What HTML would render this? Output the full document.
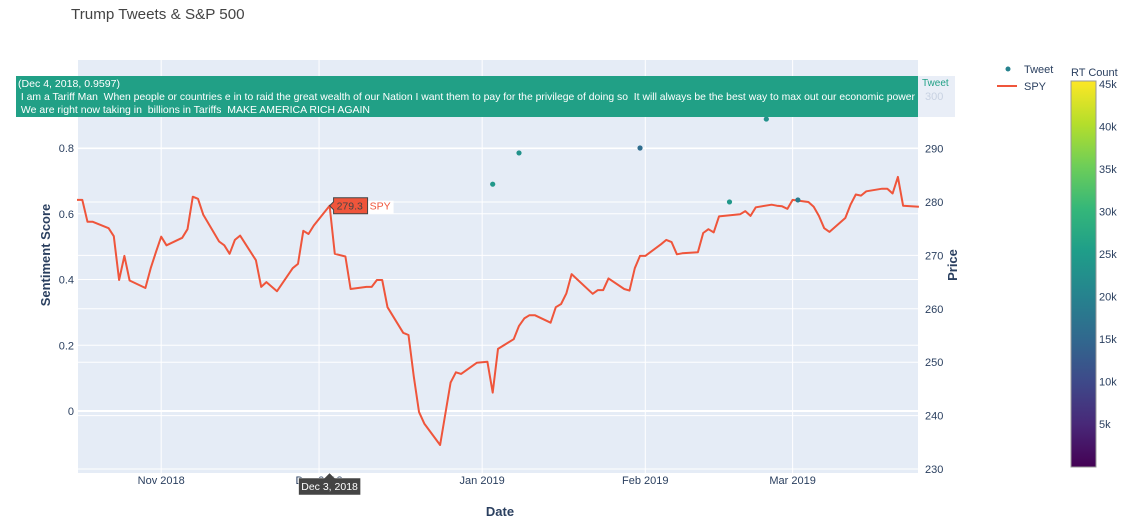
<!DOCTYPE html>
<html><head><meta charset="utf-8">
<style>
body{margin:0;background:#fff;width:1132px;height:532px;overflow:hidden;font-family:"Liberation Sans",Arial,sans-serif;}
svg{display:block}
text{font-family:"Liberation Sans",Arial,sans-serif;}
.pre{white-space:pre;}
</style></head>
<body>
<svg id="chart" width="1132" height="532" xmlns="http://www.w3.org/2000/svg">
<defs>
<linearGradient id="viridis" x1="0" y1="1" x2="0" y2="0">
<stop offset="0" stop-color="#440154"/><stop offset="0.11" stop-color="#482878"/>
<stop offset="0.22" stop-color="#3e4989"/><stop offset="0.33" stop-color="#31688e"/>
<stop offset="0.44" stop-color="#26828e"/><stop offset="0.56" stop-color="#1f9e89"/>
<stop offset="0.67" stop-color="#35b779"/><stop offset="0.78" stop-color="#6ece58"/>
<stop offset="0.89" stop-color="#b5de2b"/><stop offset="1" stop-color="#fde725"/>
</linearGradient>
</defs>
<text x="71" y="19" font-size="15.2" fill="#444">Trump Tweets &amp; S&amp;P 500</text>
<rect x="78" y="60" width="840" height="413" fill="#e5ecf6"/>
<g id="grid"></g>
<g id="series"></g>
<g id="axes"></g>
<text transform="translate(50,255) rotate(-90)" text-anchor="middle" font-size="13" font-weight="bold" fill="#2a3f5f">Sentiment Score</text>
<text transform="translate(957,265) rotate(-90)" text-anchor="middle" font-size="13" font-weight="bold" fill="#2a3f5f">Price</text>
<text x="500" y="516" text-anchor="middle" font-size="13" font-weight="bold" fill="#2a3f5f">Date</text>
<g>
<g><circle cx="1008" cy="69" r="2.5" fill="#26828e"/><text x="1024" y="73" font-size="11" fill="#2a3f5f">Tweet</text></g>
<g><line x1="997" y1="86" x2="1017" y2="86" stroke="#ef553b" stroke-width="2"/><text x="1024" y="90" font-size="11" fill="#2a3f5f">SPY</text></g>
</g>
<g>
<text x="1071" y="76" font-size="11" fill="#2a3f5f">RT Count</text>
<rect x="1071" y="81" width="25" height="386" fill="url(#viridis)" stroke="#999" stroke-width="1"/>
<g id="cbticks"></g>
</g>
<g id="hover"></g>
</svg>
<script>
const spyDates=["2018-10-16","2018-10-17","2018-10-18","2018-10-19","2018-10-22","2018-10-23","2018-10-24","2018-10-25","2018-10-26","2018-10-29","2018-10-30","2018-10-31","2018-11-01","2018-11-02","2018-11-05","2018-11-06","2018-11-07","2018-11-08","2018-11-09","2018-11-12","2018-11-13","2018-11-14","2018-11-15","2018-11-16","2018-11-19","2018-11-20","2018-11-21","2018-11-23","2018-11-26","2018-11-27","2018-11-28","2018-11-29","2018-11-30","2018-12-03","2018-12-04","2018-12-06","2018-12-07","2018-12-10","2018-12-11","2018-12-12","2018-12-13","2018-12-14","2018-12-17","2018-12-18","2018-12-19","2018-12-20","2018-12-21","2018-12-24","2018-12-26","2018-12-27","2018-12-28","2018-12-31","2019-01-02","2019-01-03","2019-01-04","2019-01-07","2019-01-08","2019-01-09","2019-01-10","2019-01-11","2019-01-14","2019-01-15","2019-01-16","2019-01-17","2019-01-18","2019-01-22","2019-01-23","2019-01-24","2019-01-25","2019-01-28","2019-01-29","2019-01-30","2019-01-31","2019-02-01","2019-02-04","2019-02-05","2019-02-06","2019-02-07","2019-02-08","2019-02-11","2019-02-12","2019-02-13","2019-02-14","2019-02-15","2019-02-19","2019-02-20","2019-02-21","2019-02-22","2019-02-25","2019-02-26","2019-02-27","2019-02-28","2019-03-01","2019-03-04","2019-03-05","2019-03-06","2019-03-07","2019-03-08","2019-03-11","2019-03-12","2019-03-13","2019-03-14","2019-03-15","2019-03-18","2019-03-19","2019-03-20","2019-03-21","2019-03-22","2019-03-25"];
const spyPrices=[280.4,280.4,276.3,276.3,275.1,273.6,265.4,269.9,265.3,263.9,267.6,270.6,273.5,271.9,273.3,274.9,281.0,280.6,277.6,272.6,271.9,270.3,272.9,273.7,269.1,264.1,265.0,263.3,267.6,268.4,274.6,274.0,275.6,279.3,270.3,269.8,263.7,264.1,264.1,265.4,265.4,260.3,255.5,255.1,247.3,240.7,238.5,234.5,246.2,248.1,247.8,249.9,250.1,244.3,252.5,254.3,256.8,258.2,258.8,258.8,257.4,260.3,260.9,262.9,266.5,262.8,263.5,263.5,265.7,263.7,263.4,267.6,269.9,269.9,272.1,272.9,272.5,270.2,270.4,270.6,274.2,274.9,274.3,277.3,277.7,278.3,277.4,279.0,279.5,279.3,279.2,278.7,280.4,280.0,279.1,277.4,275.1,274.4,277.0,279.5,281.4,281.2,282.0,282.5,282.5,281.6,284.7,279.3,279.1];
const tweetDates=["2018-12-04","2019-01-03","2019-01-08","2019-01-31","2019-02-17","2019-02-24","2019-03-02"];
const tweetScores=[0.9597,0.69,0.785,0.80,0.636,0.888,0.642];
const tweetRT=[26000,24000,23000,16000,24000,23000,19000];
const xTickDates=["2018-11-01","2018-12-01","2019-01-01","2019-02-01","2019-03-01"];
const xTickLabels=["Nov 2018","Dec 2018","Jan 2019","Feb 2019","Mar 2019"];
const yTicks=[0,0.2,0.4,0.6,0.8];
const y2Ticks=[230,240,250,260,270,280,290,300];
const cbTicks=[5000,10000,15000,20000,25000,30000,35000,40000,45000];

const NS="http://www.w3.org/2000/svg";
const DAY=86400000;
const x0=Date.UTC(2018,9,16), xDayPx=5.262, plotL=78, plotR=918, plotT=60, plotB=473;
function xs(d){const t=Date.parse(d+"T00:00:00Z");return plotL-1+(t-x0)/DAY*xDayPx;}
function ys(v){return 411-v*328.75;}
function y2s(p){return 202-(p-280)*5.34;}
function cbY(v){return 466.5-v*(42.5/5000);}
function mk(tag,attrs,parent){const e=document.createElementNS(NS,tag);for(const k in attrs)e.setAttribute(k,attrs[k]);parent.appendChild(e);return e;}
const grid=document.getElementById('grid'),axes=document.getElementById('axes'),series=document.getElementById('series'),hover=document.getElementById('hover'),cbt=document.getElementById('cbticks');

xTickDates.forEach((d,i)=>{const x=xs(d);
 const l=mk('line',{x1:x,x2:x,y1:plotT,y2:plotB,stroke:'#fff','stroke-width':1},grid);
 
 
 const t=mk('text',{x:x,y:484,'text-anchor':'middle','font-size':11,fill:'#2a3f5f'},axes);t.textContent=xTickLabels[i];
 
 });
y2Ticks.forEach(v=>{const y=y2s(v);
 if(y>plotT){const l=mk('line',{x1:plotL,x2:plotR,y1:y,y2:y,stroke:'#fff','stroke-width':1},grid);
 
 }
 const t=mk('text',{x:925,y:y+4,'font-size':11,fill:'#2a3f5f'},axes);t.textContent=v;
 
 });
yTicks.forEach(v=>{const y=ys(v);
 const l=mk('line',{x1:plotL,x2:plotR,y1:y,y2:y,stroke:'#fff','stroke-width':v===0?2:1},grid);
 
 
 const t=mk('text',{x:74,y:y+4,'text-anchor':'end','font-size':11,fill:'#2a3f5f'},axes);t.textContent=v;
 
 });

const pts=spyDates.map((d,i)=>xs(d).toFixed(1)+','+y2s(spyPrices[i]).toFixed(1)).join(' ');
const pl=mk('polyline',{points:pts,fill:'none',stroke:'#ef553b','stroke-width':2,'stroke-linejoin':'round'},series);



function viridis(v){const s=[[68,1,84],[72,40,120],[62,73,137],[49,104,142],[38,130,142],[31,158,137],[53,183,121],[110,206,88],[181,222,43],[253,231,37]];
 let f=Math.max(0,Math.min(1,v/45300))*9,i=Math.min(8,Math.floor(f)),r=f-i;
 return 'rgb('+s[i].map((c,k)=>Math.round(c+(s[i+1][k]-c)*r)).join(',')+')';}
tweetDates.forEach((d,i)=>{const c=mk('circle',{cx:xs(d),cy:ys(tweetScores[i]),r:2.6,fill:viridis(tweetRT[i])},series);
 
 });

cbTicks.forEach(v=>{const t=mk('text',{x:1099,y:cbY(v)+4,'font-size':11,fill:'#2a3f5f'},cbt);t.textContent=(v/1000)+'k';
 
 });

// hover: tweet tooltip
const hb=mk('g',{},hover);


mk('rect',{x:918,y:76,width:37,height:41,fill:'#e9eef7'},hb);
const tw=mk('text',{x:922,y:86,'font-size':10,fill:'#21a086'},hb);tw.textContent='Tweet';
const t300=mk('text',{x:925,y:100,'font-size':11,fill:'#c8d2e2'},hb);t300.textContent='300';
mk('rect',{x:16,y:76,width:902,height:41,fill:'#21a086'},hb);
const lines=["(Dec 4, 2018, 0.9597)"," I am a Tariff Man  When people or countries e in to raid the great wealth of our Nation I want them to pay for the privilege of doing so  It will always be the best way to max out our economic power"," We are right now taking in  billions in Tariffs  MAKE AMERICA RICH AGAIN"];
const lineLens=[102,897,352];
lines.forEach((s,i)=>{const t=mk('text',{x:18,y:87+i*13,'font-size':10.5,fill:'#fff','class':'pre',textLength:lineLens[i],lengthAdjust:'spacingAndGlyphs'},hb);t.textContent=s;});
// SPY hover label
const sx=xs("2018-12-03"),sy=y2s(279.3);
const sh=mk('g',{},hover);


mk('rect',{x:sx+38,y:sy-5,width:26,height:13,fill:'#fff'},sh);
mk('path',{d:`M${sx} ${sy} L${sx+4} ${sy-4} L${sx+4} ${sy-8} L${sx+38} ${sy-8} L${sx+38} ${sy+8} L${sx+4} ${sy+8} L${sx+4} ${sy+4} Z`,fill:'#ef553b',stroke:'#444','stroke-width':1},sh);
const sv=mk('text',{x:sx+7,y:sy+4,'font-size':10.5,fill:'#444'},sh);sv.textContent='279.3';
const sn=mk('text',{x:sx+40,y:sy+4,'font-size':10.5,fill:'#ef553b'},sh);sn.textContent='SPY';
// date hover label
const dh=mk('g',{},hover);


mk('path',{d:`M${sx} 473 L${sx+5} 478 L${sx+31} 478 L${sx+31} 495 L${sx-31} 495 L${sx-31} 478 L${sx-5} 478 Z`,fill:'#444',stroke:'#fff','stroke-width':0.5},dh);
const dt=mk('text',{x:sx,y:490,'text-anchor':'middle','font-size':10.5,fill:'#fff'},dh);dt.textContent='Dec 3, 2018';
</script>
</body></html>
